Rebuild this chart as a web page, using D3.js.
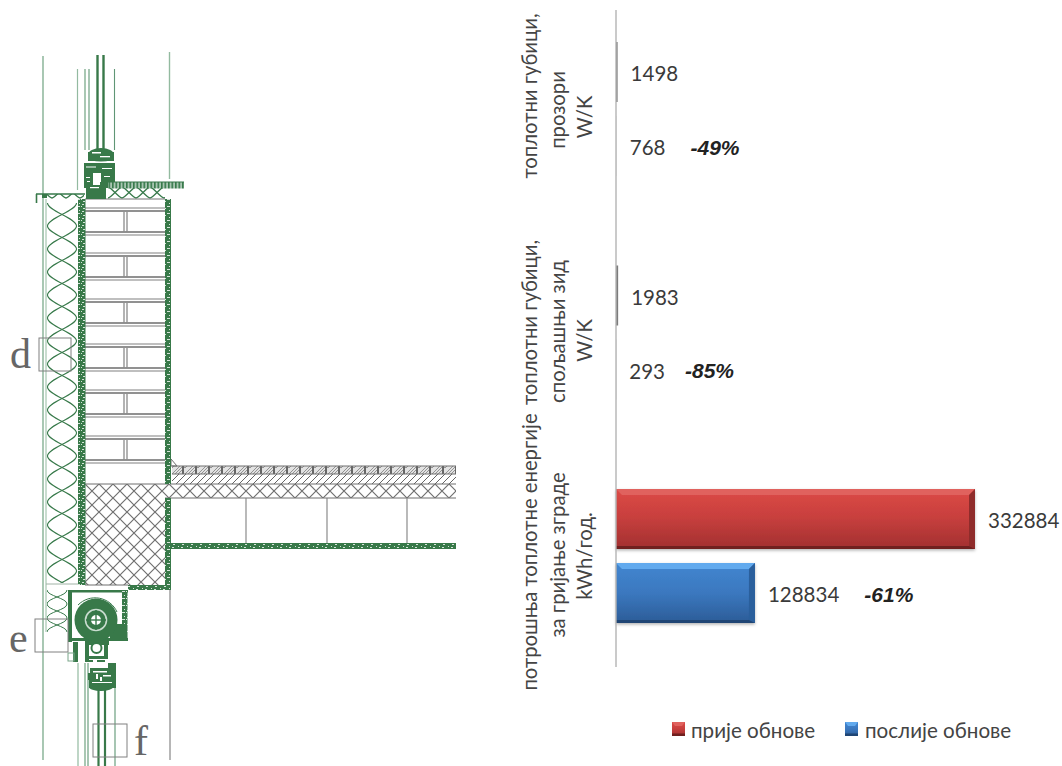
<!DOCTYPE html>
<html><head><meta charset="utf-8">
<script src="https://cdnjs.cloudflare.com/ajax/libs/d3/7.8.5/d3.min.js"></script>
<style>html,body{margin:0;padding:0;background:#fff;overflow:hidden}svg{display:block}</style>
</head><body><svg id="c" width="1062" height="766"></svg>
<script>
const categories = ["windows","wall","energy"];
const categoryLines = [
  ["топлотни губици,","прозори","W/K"],
  ["топлотни губици,","спољашњи зид","W/K"],
  ["потрошња топлотне енергије","за гријање зграде","kWh/год."]
];
const series = ["прије обнове","послије обнове"];
const before = [1498,1983,332884];
const after = [768,293,128834];
const changes = ["-49%","-85%","-61%"];

const svg = d3.select("#c");
const defs = svg.append("defs");
const GREEN="#37794a", PALE="#93baa0", GRAY="#6e6e6e";

function grad(id,stops){
  const g=defs.append("linearGradient").attr("id",id).attr("x1",0).attr("x2",0).attr("y1",0).attr("y2",1);
  stops.forEach(s=>g.append("stop").attr("offset",s[0]).attr("stop-color",s[1]));
}
grad("gr0",[[0,"#dc4a46"],[.45,"#c9403e"],[1,"#a23030"]]);
grad("gr1",[[0,"#4286d0"],[.5,"#3b78bf"],[1,"#2c5c97"]]);
const sh=defs.append("filter").attr("id","sh").attr("x","-5%").attr("y","-10%").attr("width","110%").attr("height","125%");
sh.append("feDropShadow").attr("dx",0).attr("dy",1.5).attr("stdDeviation",1.5).attr("flood-color","#000").attr("flood-opacity",.3);
defs.append("filter").attr("id","soft").append("feGaussianBlur").attr("stdDeviation",.25);

function pat(id,w,h,fn,attrs){
  const p=defs.append("pattern").attr("id",id).attr("width",w).attr("height",h).attr("patternUnits","userSpaceOnUse");
  if(attrs) Object.entries(attrs).forEach(([k,v])=>p.attr(k,v));
  fn(p);
}
pat("ins",32,46,p=>{
  p.append("path").attr("d","M1.5,0 C1.5,8 30.5,15 30.5,23 C30.5,31 1.5,38 1.5,46").attr("fill","none").attr("stroke",GREEN).attr("stroke-width",1.1);
  p.append("path").attr("d","M30.5,0 C30.5,8 1.5,15 1.5,23 C1.5,31 30.5,38 30.5,46").attr("fill","none").attr("stroke",GREEN).attr("stroke-width",1.1);
},{x:46,y:203});
pat("ins2",22,28,p=>{
  p.append("path").attr("d","M1,0 C1,6 21,8 21,14 C21,20 1,22 1,28").attr("fill","none").attr("stroke",GREEN).attr("stroke-width",1);
  p.append("path").attr("d","M21,0 C21,6 1,8 1,14 C1,20 21,22 21,28").attr("fill","none").attr("stroke",GREEN).attr("stroke-width",1);
},{x:46,y:590});
pat("zig",14,13,p=>{
  p.append("path").attr("d","M0,12 C3,12 11,1 14,1 M0,1 C3,1 11,12 14,12").attr("fill","none").attr("stroke",GREEN).attr("stroke-width",1.3);
},{x:108,y:186});
pat("cross",14,14,p=>{
  p.append("path").attr("d","M0,0L14,14M14,0L0,14").attr("stroke","#707070").attr("stroke-width",1.2);
},{x:85,y:484});
pat("hatch",7,7,p=>{
  p.append("path").attr("d","M-1,8L8,-1").attr("stroke","#666").attr("stroke-width",1);
  p.append("path").attr("d","M-3,3L3,-3M4,10L10,4").attr("stroke","#666").attr("stroke-width",1);
},{y:474,x:172});
pat("roof",13,8,p=>{
  p.append("rect").attr("width",13).attr("height",8).attr("fill","#e2e2e2");
  p.append("path").attr("d","M0,8L8,0M3,8L11,0M-3,5L2,0M6,8L13,1").attr("stroke","#8a8a8a").attr("stroke-width",.9);
  p.append("rect").attr("x",10).attr("width",2).attr("height",8).attr("fill","#666");
},{y:466,x:172});
pat("plaster",9,7,p=>{
  p.append("rect").attr("width",9).attr("height",7).attr("fill",GREEN);
  [[1,1,2,1],[5,3,3,1],[2,5,2,1],[7,0,1,1],[0,3,1,1]].forEach(r=>p.append("rect").attr("x",r[0]).attr("y",r[1]).attr("width",r[2]).attr("height",r[3]).attr("fill","#d6e5da"));
});
pat("sillh",3.5,7,p=>{
  p.append("rect").attr("width",3.5).attr("height",7).attr("fill","#a9c6b2");
  p.append("rect").attr("width",1.6).attr("height",7).attr("fill",GREEN);
},{y:182});

/* ---------- construction detail (illustration) ---------- */
const draw=svg.append("g").attr("filter","url(#soft)");
const R=(x,y,w,h,f,s,sw)=>draw.append("rect").attr("x",x).attr("y",y).attr("width",w).attr("height",h).attr("fill",f||"none").attr("stroke",s||"none").attr("stroke-width",sw||1);
const L=(x1,y1,x2,y2,s,sw)=>draw.append("line").attr("x1",x1).attr("y1",y1).attr("x2",x2).attr("y2",y2).attr("stroke",s).attr("stroke-width",sw||1);
const E=(cx,cy,rx,ry,f)=>draw.append("ellipse").attr("cx",cx).attr("cy",cy).attr("rx",rx).attr("ry",ry).attr("fill",f);

// long verticals
L(43,56,43,760,PALE,1.6);
L(169.5,52,169.5,179,PALE,1.4);
L(170,590,170,760,GRAY,1);
L(46,199,46,632,PALE,1);
// glazing top
[[77.5,69,190,PALE,1.2],[85,69,150,PALE,1.6],[89,69,150,"#5f9674",1.1],[114.5,69,150,"#5f9674",1.1]].forEach(a=>L(a[0],a[1],a[0],a[2],a[3],a[4]));
[[97.5,55,150],[103.5,55,150]].forEach(a=>L(a[0],a[1],a[0],a[2],GREEN,2.4));
// glazing bottom
[[78,663,766,PALE,1.2],[85,663,766,PALE,1.6],[88,663,766,"#5f9674",1.1],[115,685,766,"#5f9674",1.1]].forEach(a=>L(a[0],a[1],a[0],a[2],a[3],a[4]));
[[98.5,688,766],[105,688,766]].forEach(a=>L(a[0],a[1],a[0],a[2],GREEN,2.2));

// insulation
R(46,203,32,380,"url(#ins)");
R(47,590,21,42,"url(#ins2)");
L(46,584,78,584,"#a0b3a6",1);
// bricks
[212,257,303,348,394,440].forEach(y=>{
  [y-4,y-1,y+20,y+23].forEach(v=>L(85,v,165,v,v===y-1||v===y+20?"#6e6e6e":"#aaa",1.3));
  [124,127].forEach(x=>L(x,y,x,y+20,"#8a8a8a",1.3));
});
L(85,484,165,484,GRAY,1);
// concrete
R(85,484,80,101,"url(#cross)");
R(165,484,291,14,"url(#cross)");
L(165,498,456,498,GRAY,1); L(165,484,456,484,GRAY,1);
L(85,585,128,585,GRAY,1);
// hollow block
[246,327,407].forEach(x=>L(x,498,x,543,"#808080",1.1));
L(166,498,166,543,GRAY,1);
// floor layers
R(172,466,284,8,"url(#roof)");
R(172,474,284,10,"url(#hatch)");
L(172,466,456,466,GRAY,1); L(172,474,456,474,GRAY,1);
draw.append("path").attr("d","M171,459L177,466L171,466Z").attr("fill","none").attr("stroke",GRAY);
// plaster
R(78,199,7.5,386,"url(#plaster)");
R(165,199,6,285,"url(#plaster)");
R(165,498,6,92,"url(#plaster)");
R(128,585,43,5,"url(#plaster)");
R(166,543,290,6,"url(#plaster)");
// sill
R(108,182,76,6.5,"url(#sillh)");
L(108,182,184,182,GREEN,1.2);
R(108,188,57,11,"url(#zig)");
R(46,194,38,5,"url(#zig)");
L(36,194,85,194,GREEN,1.6);
L(36.5,194,36.5,203,GREEN,1.6);
R(42,194,5,4,GREEN);
L(85,199,165,199,"#777",1.2);
// window frame top
E(101,155,13,7,GREEN);
[[88,152,26,9],[84,163,31,9],[84,172,9,14],[100,170,15,12],[90,171,10,2],[84,185,24,3],[86,188,20,11],[100,182,8,6]].forEach(r=>R(r[0],r[1],r[2],r[3],GREEN));
[[92,152,9,1.5],[100,156,10,1.3],[90,161.5,22,1.3],[86,166.5,10,1],[102,168,10,1],[94,173,7,9],[86,177,4,1],[87,181,3,1],[104,176,6,1],[90,187,9,1.2]].forEach(r=>R(r[0],r[1],r[2],r[3],"#fff"));
// shutter box
R(68,590,60,2.5,GREEN);
R(68,590,4,52,GREEN);
R(122,590,5.5,50,"url(#plaster)");
R(72,638,56,3,GREEN);
R(110,624,17,15,GREEN);
draw.append("path").attr("d","M78,605 A24,24 0 0 1 117,612").attr("fill","none").attr("stroke",GREEN).attr("stroke-width",1);
draw.append("circle").attr("cx",96).attr("cy",620).attr("r",21.5).attr("fill",GREEN);
draw.append("circle").attr("cx",96).attr("cy",620).attr("r",10.5).attr("fill","none").attr("stroke","#c9dccf").attr("stroke-width",1.6);
draw.append("circle").attr("cx",96).attr("cy",620).attr("r",5).attr("fill","#fff");
L(96,610,96,630,GREEN,1.4); L(86,620,106,620,GREEN,1.4);
// lower frame
[[85,641,24,4],[85,641,4,20],[104,641,4,18],[89,656,15,3],[85,660,8,2],[97,660,8,2],[73,642,5,20]].forEach(r=>R(r[0],r[1],r[2],r[3],GREEN));
draw.append("circle").attr("cx",96.5).attr("cy",648).attr("r",5).attr("fill","#fff").attr("stroke",GREEN).attr("stroke-width",2);
R(68,653,6,8,"none","#7aa68a",1);
// lower blob
[[90,668,18,5],[108,663,8,12],[88,673,28,7],[89,680,27,8]].forEach(r=>R(r[0],r[1],r[2],r[3],GREEN));
E(101,687,12,4,GREEN);
[[93,671,14,1.5],[96,674,2,5],[103,675,8,1.5],[92,682,20,1],[100,677,2,4]].forEach(r=>R(r[0],r[1],r[2],r[3],"#fff"));
// callouts
[[39,338,32,33],[35,619,33,33],[93,724,34,33]].forEach(r=>R(r[0],r[1],r[2],r[3],"none","#808080",1));
[["d",10,368],["e",9,652],["f",134,755]].forEach(t=>svg.append("text").text(t[0]).attr("x",t[1]).attr("y",t[2]).attr("font-family","'Liberation Serif',serif").attr("font-size",42).attr("fill","#666"));

/* ---------- chart ---------- */
const FONT="Lato,'Open Sans',sans-serif";
const x=d3.scaleLinear().domain([0,332884]).range([616,975]);
const y=d3.scaleBand().domain(categories).range([2,672.5]);
const yi=d3.scaleBand().domain(series).range([40,174]).paddingInner(14/74);
const chart=svg.append("g");

const rows=categories.flatMap((c,i)=>[
  {c,i,s:0,name:series[0],v:before[i]},
  {c,i,s:1,name:series[1],v:after[i]}
]);
const bevel={0:{top:"#e0625e",right:"#8f2c2b",bot:"#70201f"},1:{top:"#62aaee",right:"#2a5f9c",bot:"#1f4574"}};
rows.forEach(d=>{
  const X=x(0), w=x(d.v)-x(0), Y=y(d.c)+yi(d.name), h=yi.bandwidth();
  const g=chart.append("g");
  if(w<4){
    g.append("rect").attr("x",X).attr("y",Y).attr("width",Math.max(w,1)).attr("height",h)
      .attr("fill","#6e6e6e").attr("opacity",d.s===0?.9:.12);
    return;
  }
  g.append("rect").attr("x",X).attr("y",Y).attr("width",w).attr("height",h).attr("fill",`url(#gr${d.s})`).attr("filter","url(#sh)");
  const b=bevel[d.s], e=6;
  g.append("path").attr("d",`M${X},${Y}H${X+w}L${X+w-e},${Y+e}H${X+e}Z`).attr("fill",b.top);
  g.append("path").attr("d",`M${X+w},${Y}V${Y+h}L${X+w-e},${Y+h-3}V${Y+e}Z`).attr("fill",b.right);
  g.append("path").attr("d",`M${X},${Y+h}H${X+w}L${X+w-e},${Y+h-3}H${X}Z`).attr("fill",b.bot);
});
chart.append("line").attr("x1",616).attr("x2",616).attr("y1",10).attr("y2",667).attr("stroke","#b4b4b4").attr("stroke-width",1.4);

// value labels
const pctGap=[25,20,25];
rows.forEach(d=>{
  const t=chart.append("text").text(d.v).attr("x",x(d.v)+13).attr("y",y(d.c)+yi(d.name)+yi.bandwidth()/2+1)
    .attr("dominant-baseline","central").attr("font-family",FONT).attr("font-size",20.5).attr("fill","#3a3a3a");
  if(d.s===1){
    const len=t.node().getComputedTextLength();
    chart.append("text").text(changes[d.i]).attr("x",x(d.v)+13+len+pctGap[d.i]).attr("y",y(d.c)+yi(d.name)+yi.bandwidth()/2+1)
      .attr("dominant-baseline","central").attr("font-family","'Liberation Sans',Arial,sans-serif").attr("font-size",21)
      .attr("font-style","italic").attr("font-weight","bold").attr("fill","#222");
  }
});

// rotated category labels
const lineX=[529,557,584];
const lineShift=[[-13,1,8],[-10,-1,8],[-4,-1,0]];
categories.forEach((c,i)=>{
  categoryLines[i].forEach((s,j)=>{
    const cy=y(c)+107+lineShift[i][j];
    chart.append("text").text(s).attr("text-anchor","middle").attr("dominant-baseline","central")
      .attr("transform",`translate(${lineX[j]},${cy}) rotate(-90)`)
      .attr("font-family",FONT).attr("font-size",20.3).attr("fill","#444");
  });
});

// legend
const lg=chart.append("g");
[[672,691],[845,865]].forEach((p,i)=>{
  lg.append("rect").attr("x",p[0]).attr("y",722).attr("width",13).attr("height",14).attr("fill",`url(#gr${i})`);
  lg.append("path").attr("d",`M${p[0]},722h13l-3,4h-7Z`).attr("fill",bevel[i].top);
  lg.append("rect").attr("x",p[0]).attr("y",733.5).attr("width",13).attr("height",2.5).attr("fill",bevel[i].bot);
  lg.append("text").text(series[i]).attr("x",p[1]).attr("y",730).attr("dominant-baseline","central")
    .attr("font-family",FONT).attr("font-size",20.6).attr("fill","#444");
});
</script></body></html>
